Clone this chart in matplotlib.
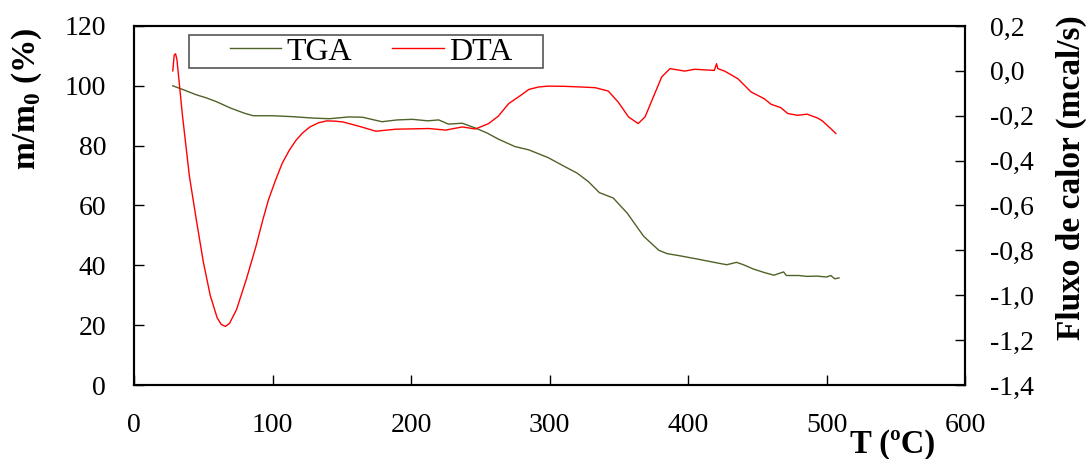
import matplotlib
matplotlib.use("Agg")
import matplotlib.pyplot as plt
from matplotlib.ticker import FuncFormatter
from matplotlib.patches import Rectangle

plt.rcParams['font.family'] = ['Liberation Serif', 'DejaVu Serif']
plt.rcParams['mathtext.fontset'] = 'custom'
plt.rcParams['mathtext.rm'] = 'Liberation Serif'
plt.rcParams['mathtext.bf'] = 'Liberation Serif:bold'

# TGA: temperature (ºC) vs mass fraction (%)
tga_T = [28, 35, 45, 52, 59.5, 70, 80, 86, 100, 114, 130, 141, 155, 165, 179, 190, 201,
         212, 220, 227, 237, 247, 255, 263, 275, 285, 299, 311, 320, 328, 336, 346,
         356, 368, 379, 385, 394, 409, 421, 428, 435, 440, 447, 455, 462, 469, 471,
         480, 486, 493, 500, 503, 506, 509]
tga_m = [100, 98.8, 97, 96, 94.7, 92.5, 90.8, 90, 90, 89.7, 89.2, 89, 89.6, 89.5, 88, 88.6, 88.8,
         88.3, 88.6, 87.2, 87.5, 85.8, 84.2, 82.2, 79.7, 78.6, 76, 73, 70.8, 68, 64.3, 62.5,
         57.5, 49.7, 45, 43.9, 43.2, 41.9, 40.8, 40.2, 41, 40.2, 38.8, 37.6, 36.7, 37.8, 36.6,
         36.6, 36.3, 36.4, 36.1, 36.6, 35.5, 35.8]

# DTA: temperature (ºC) vs heat flow (mcal/s)
dta_T = [28, 29, 30, 31, 35, 40, 45, 50, 55, 60, 63, 66, 69, 74, 81, 88,
         93, 97, 102, 107, 112, 117, 122, 127, 133, 139, 145, 151, 162.6, 174.6, 189, 213, 225, 237,
         246.5, 256, 263, 270.5, 279, 285, 292, 299, 311, 323, 333, 342.4, 349.6, 357,
         364, 369, 376, 381, 387, 397.6, 404.8, 419, 420.6, 421.5, 426.4, 436, 445.5,
         455, 460, 467, 472, 479, 486, 493.5, 497, 503, 506.7]
dta_q = [0.0, 0.07, 0.076, 0.05, -0.2, -0.47, -0.664, -0.85, -1.0, -1.1, -1.13, -1.139, -1.125, -1.064, -0.931, -0.783,
         -0.664, -0.576, -0.49, -0.412, -0.355, -0.309, -0.275, -0.25, -0.232, -0.223, -0.224, -0.228, -0.247, -0.269, -0.26, -0.257, -0.264, -0.25,
         -0.259, -0.235, -0.202, -0.146, -0.11, -0.083, -0.072, -0.068, -0.069, -0.072, -0.075, -0.09, -0.139, -0.205,
         -0.235, -0.205, -0.101, -0.027, 0.01, -0.001, 0.007, 0.002, 0.032, 0.01, -0.001, -0.035, -0.094,
         -0.124, -0.149, -0.164, -0.19, -0.198, -0.193, -0.21, -0.223, -0.257, -0.279]

fig = plt.figure(figsize=(10.86, 4.59), dpi=100)
ax = fig.add_axes([0.1234, 0.1612, 0.7652, 0.7822])
ax2 = ax.twinx()

l1, = ax.plot(tga_T, tga_m, color='#4f6228', lw=1.0, label='TGA')
l2, = ax2.plot(dta_T, dta_q, color='#ff0000', lw=1.0, label='DTA')

ax.set_xlim(0, 600)
ax.set_ylim(0, 120)
ax2.set_ylim(-1.4, 0.2)
ax.set_xticks(range(0, 601, 100))
ax.set_yticks(range(0, 121, 20))
ax2.set_yticks([-1.4, -1.2, -1.0, -0.8, -0.6, -0.4, -0.2, 0.0, 0.2])
ax2.yaxis.set_major_formatter(FuncFormatter(lambda v, p: f"{v:.1f}".replace('.', ',').replace('-0,0', '0,0')))

for a in (ax, ax2):
    a.tick_params(direction='in', length=7, width=1, labelsize=20)
    for s in a.spines.values():
        s.set_linewidth(1.5)
ax.tick_params(axis='x', pad=20)
ax.tick_params(axis='y', pad=20)
ax2.tick_params(axis='y', pad=18)

fig.text(0.025, 0.784, 'm/m$_\\mathbf{0}$ (%)', rotation=90, ha='center', va='center',
         fontsize=24, fontweight='bold')
fig.text(0.987, 0.612, 'Fluxo de calor (mcal/s)', rotation=90, ha='center', va='center',
         fontsize=24, fontweight='bold')
fig.text(893 / 1086, 1 - 445 / 459, 'T (ºC)', ha='center', va='center',
         fontsize=23.5, fontweight='bold')

# legend box drawn separately, entries without frame
fig.patches.append(Rectangle((189 / 1086, 1 - 68 / 459), 354 / 1086, 33 / 459,
                             transform=fig.transFigure, fill=False,
                             edgecolor='#555555', linewidth=1.2))
leg = ax.legend(handles=[l1, l2], loc='center left', bbox_to_anchor=(230 / 1086, 1 - 52 / 459),
                bbox_transform=fig.transFigure, ncol=2, fontsize=23, frameon=False,
                handlelength=1.6, columnspacing=1.25, borderpad=0, borderaxespad=0,
                handletextpad=0.18)

fig.savefig('out.png', dpi=100)
